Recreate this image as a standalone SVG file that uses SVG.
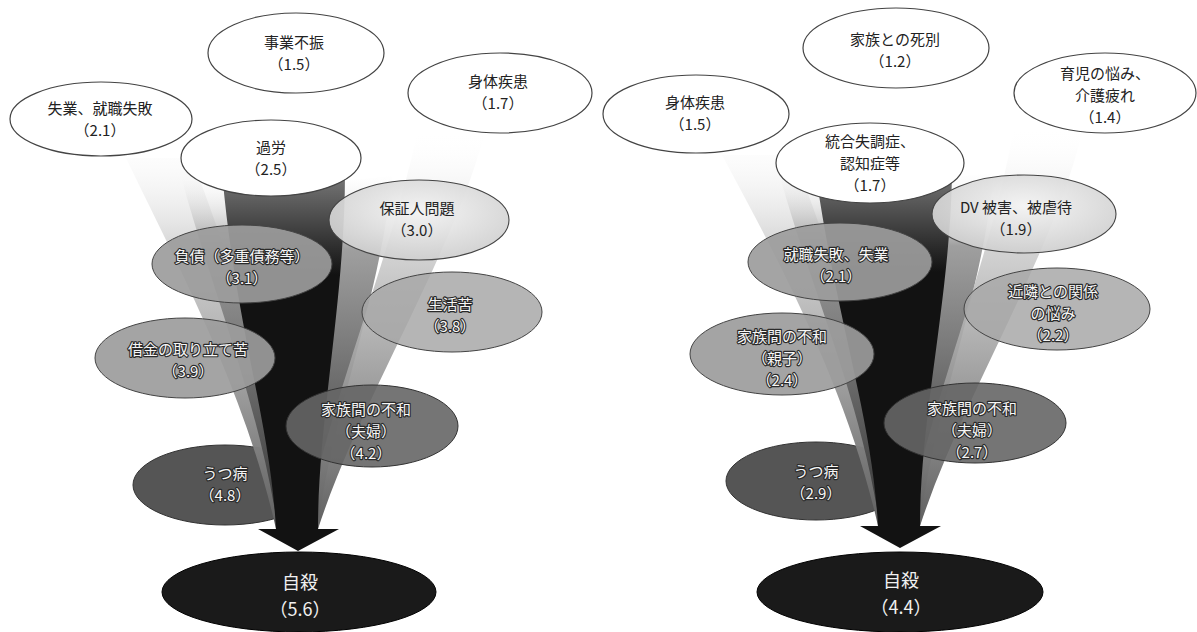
<svg xmlns="http://www.w3.org/2000/svg" width="1197" height="632" viewBox="0 0 1197 632">
<defs>
<linearGradient id="gLight" gradientUnits="userSpaceOnUse" x1="0" y1="130" x2="0" y2="529">
<stop offset="0" stop-color="#ffffff" stop-opacity="0"/>
<stop offset="0.3" stop-color="#cfcfcf" stop-opacity="0.9"/>
<stop offset="1" stop-color="#606060" stop-opacity="1"/>
</linearGradient>
<linearGradient id="gMid" gradientUnits="userSpaceOnUse" x1="0" y1="170" x2="0" y2="529">
<stop offset="0" stop-color="#ffffff" stop-opacity="0"/>
<stop offset="0.22" stop-color="#9a9a9a" stop-opacity="0.95"/>
<stop offset="1" stop-color="#333333" stop-opacity="1"/>
</linearGradient>
<linearGradient id="gCore" gradientUnits="userSpaceOnUse" x1="0" y1="172" x2="0" y2="275">
<stop offset="0" stop-color="#7a7a7a"/>
<stop offset="1" stop-color="#121212"/>
</linearGradient>
<radialGradient id="gPale" cx="0.5" cy="0.4" r="0.6">
<stop offset="0" stop-color="#f4f4f4"/>
<stop offset="1" stop-color="#cfcfcf"/>
</radialGradient>
</defs>
<style>
text{font-family:'Noto Sans CJK JP','Noto Sans CJK SC',sans-serif;font-size:15px;text-anchor:middle;dominant-baseline:central}
.dk{fill:#222}
.wt{fill:#f6f6f6;stroke:#2a2a2a;stroke-width:2.3px;paint-order:stroke;stroke-linejoin:round}
.big{font-size:18px;fill:#f0f0f0}
.e0{fill:#ffffff;stroke:#444;stroke-width:1.2}
.e1{fill:url(#gPale);fill-opacity:0.92;stroke:#444;stroke-width:1.1}
.e2{fill:#9c9c9c;fill-opacity:0.92;stroke:#444;stroke-width:1}
.e3{fill:#a8a8a8;fill-opacity:0.85;stroke:#444;stroke-width:1}
.e4{fill:#666;fill-opacity:0.9;stroke:#333;stroke-width:1}
.e5{fill:#555;stroke:#333;stroke-width:1}
.e6{fill:#1a1a1a;stroke:#000;stroke-width:1}
</style>

<!-- nodes drawn beneath the funnel -->
<g id="L-utsu"><ellipse class="e5" cx="225" cy="485" rx="92" ry="40"/><text class="wt"><tspan x="225" y="472">うつ病</tspan><tspan x="225" y="494">（4.8）</tspan></text></g>
<g id="R-utsu"><ellipse class="e5" cx="816" cy="481" rx="90" ry="39"/><text class="wt"><tspan x="816" y="470">うつ病</tspan><tspan x="816" y="492">（2.9）</tspan></text></g>

<g id="connectors">
<g id="L-funnel">
<path fill="url(#gLight)" d="M126,158 L192,158 C240,290 280,400 290,529 L276,529 C245,390 175,260 126,158 Z"/>
<path fill="url(#gMid)" d="M182,180 L252,188 C272,300 294,420 300,529 L278,529 C258,400 215,300 182,180 Z"/>
<path fill="url(#gMid)" d="M300,185 L392,176 C380,300 330,420 318,529 L300,529 C305,420 305,300 300,185 Z"/>
<path fill="url(#gLight)" d="M418,130 L484,136 C450,260 360,400 318,529 L305,529 C330,400 390,260 418,130 Z"/>
<path fill="url(#gCore)" d="M222,172 C236,330 270,420 276,529 L258,529 L298,551 L339,529 L318,529 C318,420 345,300 345,172 Z"/>
</g>
<g id="R-funnel" transform="translate(602,-3)">
<path fill="url(#gLight)" d="M120,158 L192,158 C240,290 280,400 290,529 L276,529 C245,390 175,260 120,158 Z"/>
<path fill="url(#gMid)" d="M178,180 L252,188 C272,300 294,420 300,529 L278,529 C258,400 212,300 178,180 Z"/>
<path fill="url(#gMid)" d="M300,185 L392,176 C380,300 330,420 318,529 L300,529 C305,420 305,300 300,185 Z"/>
<path fill="url(#gLight)" d="M412,130 L480,136 C450,260 360,400 318,529 L305,529 C330,400 390,260 412,130 Z"/>
<path fill="url(#gCore)" d="M214,178 C236,330 270,420 276,529 L258,529 L298,551 L339,529 L318,529 C318,420 348,300 350,178 Z"/>
</g>
</g>

<!-- left diagram -->
<g id="L-jigyo"><ellipse class="e0" cx="296" cy="53" rx="88" ry="40"/><text class="dk"><tspan x="294" y="41">事業不振</tspan><tspan x="294" y="63">（1.5）</tspan></text></g>
<g id="L-shitsugyo"><ellipse class="e0" cx="101" cy="119" rx="91" ry="37"/><text class="dk"><tspan x="100" y="107">失業、就職失敗</tspan><tspan x="100" y="129">（2.1）</tspan></text></g>
<g id="L-shintai"><ellipse class="e0" cx="500" cy="93" rx="92" ry="40"/><text class="dk"><tspan x="498" y="80">身体疾患</tspan><tspan x="498" y="102">（1.7）</tspan></text></g>
<g id="L-karo"><ellipse class="e0" cx="271" cy="158" rx="90" ry="38"/><text class="dk"><tspan x="271" y="146">過労</tspan><tspan x="271" y="168">（2.5）</tspan></text></g>
<g id="L-hosho"><ellipse class="e1" cx="419" cy="220" rx="90" ry="40"/><text class="dk"><tspan x="417" y="207">保証人問題</tspan><tspan x="417" y="229">（3.0）</tspan></text></g>
<g id="L-fusai"><ellipse class="e2" cx="242" cy="264" rx="90" ry="39"/><text class="wt"><tspan x="242" y="255">負債（多重債務等）</tspan><tspan x="242" y="277">（3.1）</tspan></text></g>
<g id="L-seikatsu"><ellipse class="e3" cx="452" cy="312" rx="90" ry="40"/><text class="wt"><tspan x="450" y="303">生活苦</tspan><tspan x="450" y="325">（3.8）</tspan></text></g>
<g id="L-shakkin"><ellipse class="e2" cx="185" cy="358" rx="90" ry="40"/><text class="wt"><tspan x="188" y="348">借金の取り立て苦</tspan><tspan x="188" y="370">（3.9）</tspan></text></g>
<g id="L-fufu"><ellipse class="e4" cx="372" cy="426" rx="86" ry="41"/><text class="wt"><tspan x="366" y="408">家族間の不和</tspan><tspan x="366" y="430">（夫婦）</tspan><tspan x="366" y="452">（4.2）</tspan></text></g>
<g id="L-jisatsu"><ellipse class="e6" cx="299" cy="592" rx="137" ry="40"/><text class="big"><tspan x="300" y="581">自殺</tspan><tspan x="300" y="608">（5.6）</tspan></text></g>

<!-- right diagram -->
<g id="R-shibetsu"><ellipse class="e0" cx="896" cy="48" rx="93" ry="40"/><text class="dk"><tspan x="895" y="38">家族との死別</tspan><tspan x="895" y="60">（1.2）</tspan></text></g>
<g id="R-shintai"><ellipse class="e0" cx="696" cy="114" rx="93" ry="39"/><text class="dk"><tspan x="695" y="101">身体疾患</tspan><tspan x="695" y="123">（1.5）</tspan></text></g>
<g id="R-ikuji"><ellipse class="e0" cx="1105" cy="93" rx="91" ry="40"/><text class="dk"><tspan x="1105" y="72">育児の悩み、</tspan><tspan x="1105" y="94">介護疲れ</tspan><tspan x="1105" y="116">（1.4）</tspan></text></g>
<g id="R-togo"><ellipse class="e0" cx="870" cy="163" rx="94" ry="40"/><text class="dk"><tspan x="870" y="140">統合失調症、</tspan><tspan x="870" y="162">認知症等</tspan><tspan x="870" y="184">（1.7）</tspan></text></g>
<g id="R-dv"><ellipse class="e1" cx="1024" cy="214" rx="92" ry="39"/><text class="dk"><tspan x="1016" y="206">DV 被害、被虐待</tspan><tspan x="1016" y="228">（1.9）</tspan></text></g>
<g id="R-shushoku"><ellipse class="e2" cx="840" cy="262" rx="92" ry="39"/><text class="wt"><tspan x="836" y="253">就職失敗、失業</tspan><tspan x="836" y="275">（2.1）</tspan></text></g>
<g id="R-kinrin"><ellipse class="e3" cx="1057" cy="309" rx="93" ry="41"/><text class="wt"><tspan x="1053" y="290">近隣との関係</tspan><tspan x="1053" y="312">の悩み</tspan><tspan x="1053" y="334">（2.2）</tspan></text></g>
<g id="R-oyako"><ellipse class="e2" cx="782" cy="354" rx="92" ry="41"/><text class="wt"><tspan x="782" y="335">家族間の不和</tspan><tspan x="782" y="357">（親子）</tspan><tspan x="782" y="379">（2.4）</tspan></text></g>
<g id="R-fufu"><ellipse class="e4" cx="975" cy="423" rx="91" ry="40"/><text class="wt"><tspan x="972" y="407">家族間の不和</tspan><tspan x="972" y="429">（夫婦）</tspan><tspan x="972" y="451">（2.7）</tspan></text></g>
<g id="R-jisatsu"><ellipse class="e6" cx="900" cy="592" rx="143" ry="40"/><text class="big"><tspan x="901" y="579">自殺</tspan><tspan x="901" y="606">（4.4）</tspan></text></g>
</svg>
